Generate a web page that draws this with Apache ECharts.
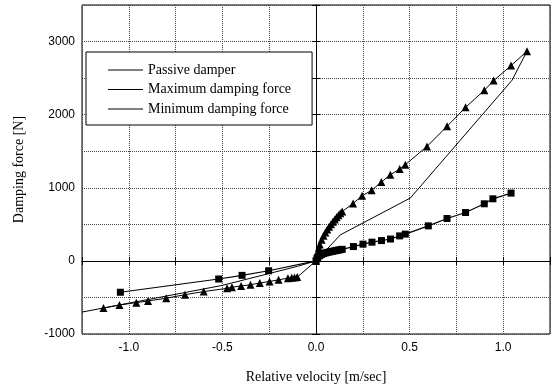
<!DOCTYPE html>
<html>
<head>
<meta charset="utf-8">
<title>Damping force vs relative velocity</title>
<script src="https://cdn.jsdelivr.net/npm/echarts@6/dist/echarts.min.js"></script>
<style>
	html, body { margin: 0; padding: 0; background: #fff; }
	#chart { width: 554px; height: 392px; }
</style>
</head>
<body>
<div id="chart"></div>
<script>
'use strict';

// [velocity m/s, force N]
var passiveData = [
	[-1.25, -700], [-0.5, -335], [-0.1, -75], [0, 0],
	[0.13, 356], [0.504, 860], [1.047, 2470], [1.127, 2867]
];

var maxForceData = [
	[-1.135, -645], [-1.05, -603], [-0.96, -571], [-0.897, -548], [-0.80, -511],
	[-0.70, -462], [-0.60, -420], [-0.475, -375], [-0.449, -360], [-0.40, -343],
	[-0.35, -326], [-0.30, -303], [-0.248, -281], [-0.20, -259], [-0.15, -236],
	[-0.13, -231], [-0.115, -227], [-0.10, -222], [0, 0],
	[0.005, 60], [0.01, 130], [0.015, 180], [0.02, 225], [0.03, 290],
	[0.04, 345], [0.05, 390], [0.06, 430], [0.07, 468], [0.08, 502],
	[0.09, 535], [0.10, 566], [0.11, 596], [0.12, 624], [0.13, 650],
	[0.14, 675], [0.198, 785], [0.246, 890], [0.297, 965], [0.349, 1078],
	[0.397, 1178], [0.447, 1256], [0.477, 1315], [0.593, 1566], [0.70, 1840],
	[0.799, 2100], [0.899, 2333], [0.949, 2466], [1.042, 2671], [1.127, 2867]
];

var minForceData = [
	[-1.045, -429], [-0.52, -248], [-0.395, -198], [-0.253, -135], [0, 0],
	[0.005, 30], [0.01, 50], [0.02, 72], [0.03, 88], [0.04, 100],
	[0.05, 108], [0.06, 115], [0.07, 121], [0.08, 127], [0.09, 132],
	[0.10, 138], [0.11, 143], [0.12, 148], [0.13, 153], [0.14, 158],
	[0.20, 196], [0.251, 229], [0.299, 256], [0.35, 278], [0.398, 299],
	[0.447, 342], [0.477, 366], [0.60, 479], [0.70, 580], [0.799, 662],
	[0.899, 781], [0.945, 849], [1.042, 927]
];

var seriesNames = ['Passive damper', 'Maximum damping force', 'Minimum damping force'];
var xTickLabels = [-1.0, -0.5, 0.0, 0.5, 1.0];
var yTickLabels = [-1000, 0, 1000, 2000, 3000];

var serif = '"Liberation Serif", "Times New Roman", serif';
var sans = '"Liberation Sans", Arial, sans-serif';

/**
 * only show the label when the tick is in the list
 */
function pickLabel(list, digits){
	return function(v){
		for(var i = 0; i < list.length; i++){
			if(Math.abs(list[i] - v) < 1e-6){
				return digits ? list[i].toFixed(digits) : String(list[i]);
			}
		}
		return '';
	};
}

var tick = { show: true, inside: true, length: 4, lineStyle: { color: '#000' } };
var border = { show: true, lineStyle: { color: '#000', width: 1 } };
var dotted = { show: true, lineStyle: { color: '#444', type: 'dotted', width: 1 } };

var option = {
	animation: false,
	backgroundColor: '#fff',
	grid: {
		left: 82, right: 4, top: 5, bottom: 58,
		outerBoundsMode: 'none',
		show: true, borderColor: '#000', borderWidth: 1
	},
	legend: {
		orient: 'vertical',
		left: 86,
		top: 52,
		padding: [11, 21, 9, 22],
		itemGap: 5.5,
		itemWidth: 35,
		itemHeight: 1,
		icon: 'rect',
		selectedMode: false,
		borderColor: '#000',
		borderWidth: 1,
		backgroundColor: '#fff',
		textStyle: { fontFamily: serif, fontSize: 14, color: '#000' },
		data: seriesNames
	},
	xAxis: [{
		type: 'value',
		min: -1.25, max: 1.25, interval: 0.25,
		name: 'Relative velocity [m/sec]',
		nameLocation: 'middle',
		nameGap: 36,
		nameTextStyle: { fontFamily: serif, fontSize: 14, color: '#000' },
		axisLine: border,
		axisTick: tick,
		axisLabel: { margin: 8, fontFamily: sans, fontSize: 12, color: '#000', formatter: pickLabel(xTickLabels, 1) },
		splitLine: dotted
	}, {
		type: 'value', position: 'top',
		min: -1.25, max: 1.25, interval: 0.25,
		axisLine: border, axisTick: tick,
		axisLabel: { show: false }, splitLine: { show: false }
	}],
	yAxis: [{
		type: 'value',
		min: -1000, max: 3500, interval: 500,
		name: 'Damping force [N]',
		nameLocation: 'middle',
		nameGap: 56,
		nameTextStyle: { fontFamily: serif, fontSize: 14, color: '#000' },
		axisLine: border,
		axisTick: tick,
		axisLabel: { margin: 7, fontFamily: sans, fontSize: 12, color: '#000', formatter: pickLabel(yTickLabels, 0) },
		splitLine: dotted
	}, {
		type: 'value', position: 'right',
		min: -1000, max: 3500, interval: 500,
		axisLine: border, axisTick: tick,
		axisLabel: { show: false }, splitLine: { show: false }
	}],
	series: [{
		name: seriesNames[0],
		type: 'line',
		data: passiveData,
		showSymbol: false,
		symbol: 'none',
		color: '#000',
		lineStyle: { color: '#000', width: 1 },
		markLine: {
			silent: true,
			symbol: 'none',
			label: { show: false },
			lineStyle: { color: '#000', type: 'solid', width: 1 },
			data: [{ xAxis: 0 }, { yAxis: 0 }]
		}
	}, {
		name: seriesNames[1],
		type: 'line',
		data: maxForceData,
		symbol: 'triangle',
		symbolSize: 8,
		color: '#000',
		itemStyle: { color: '#000' },
		lineStyle: { color: '#000', width: 1 }
	}, {
		name: seriesNames[2],
		type: 'line',
		data: minForceData,
		symbol: 'rect',
		symbolSize: 7,
		color: '#000',
		itemStyle: { color: '#000' },
		lineStyle: { color: '#000', width: 1.2 }
	}]
};

echarts.init(document.getElementById('chart')).setOption(option);
</script>
</body>
</html>
